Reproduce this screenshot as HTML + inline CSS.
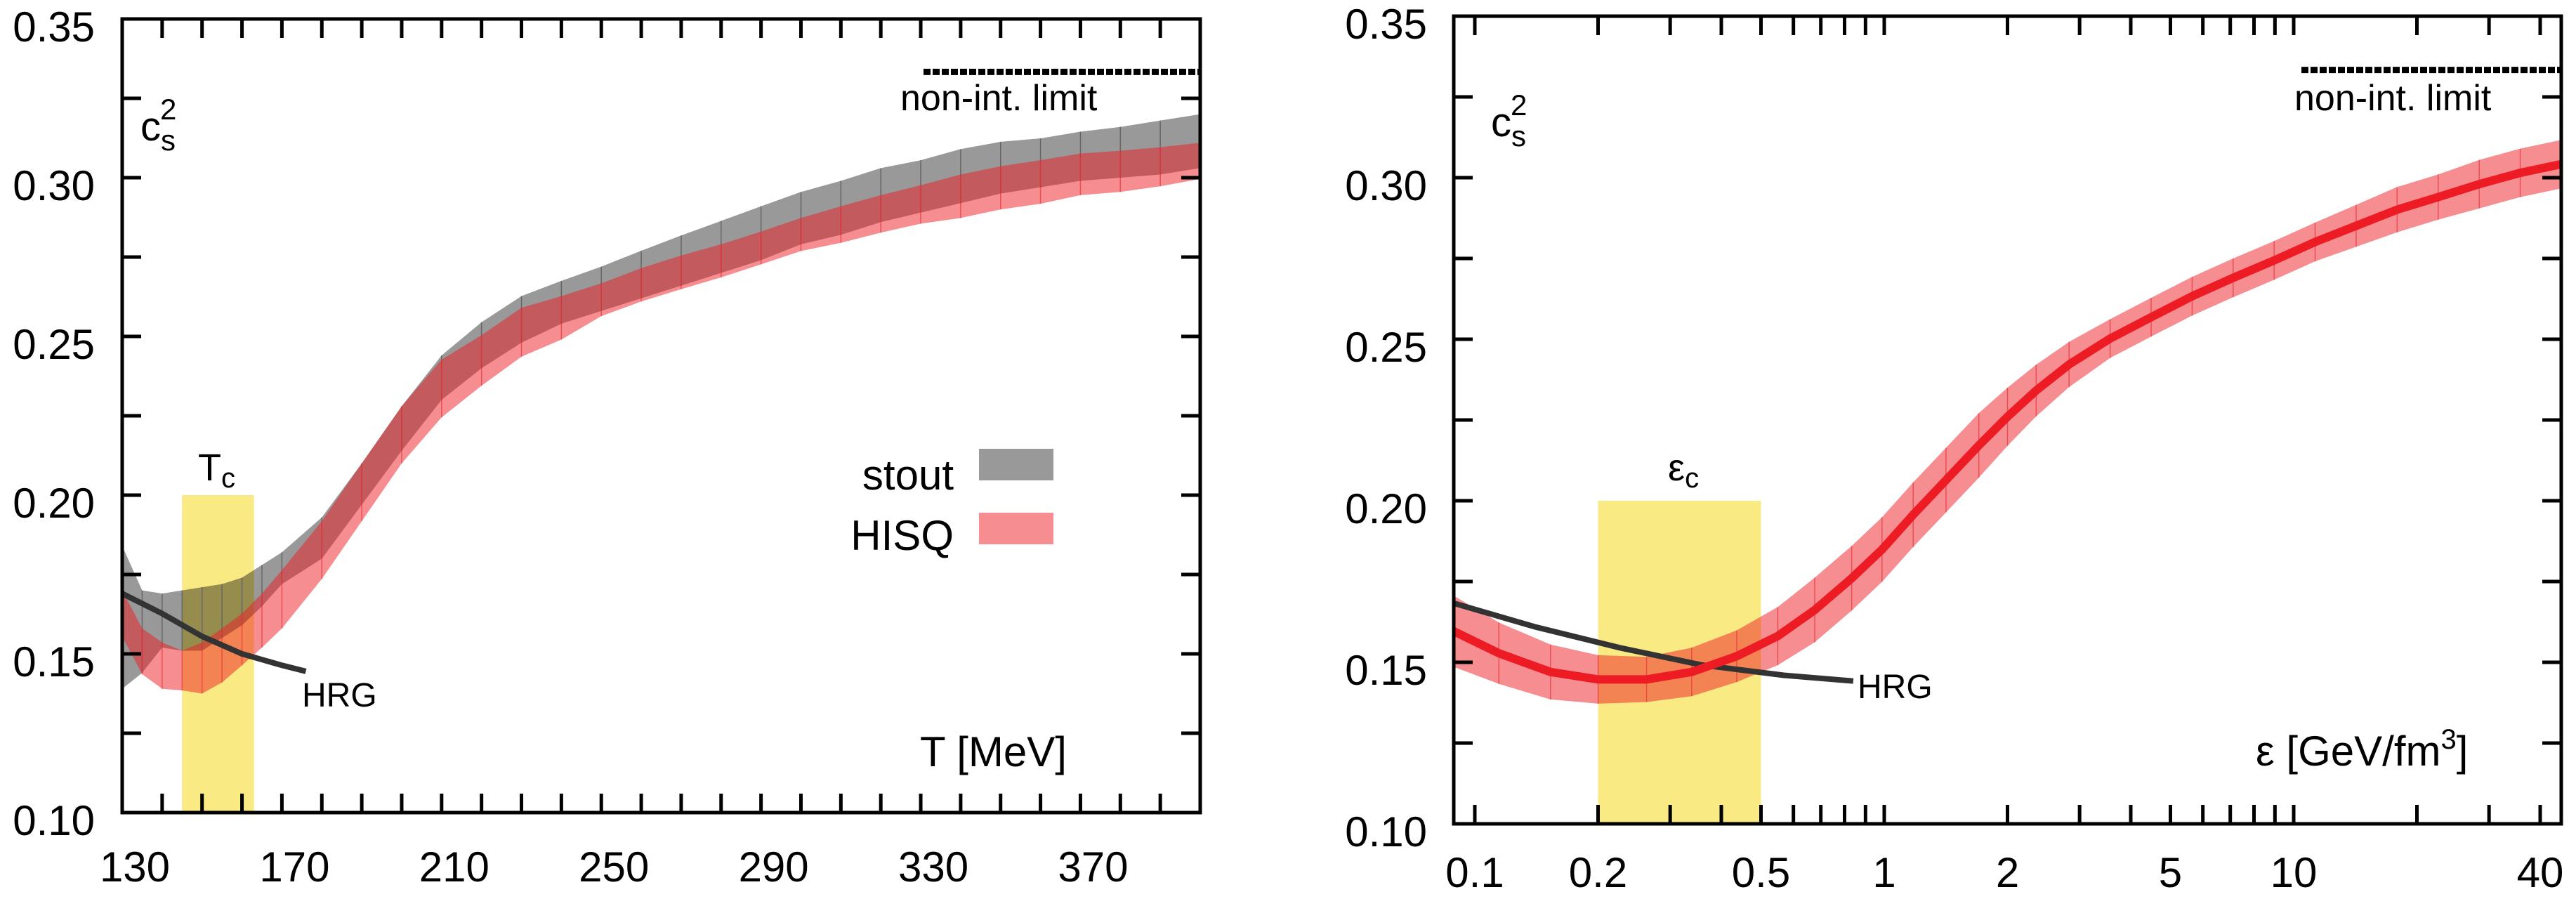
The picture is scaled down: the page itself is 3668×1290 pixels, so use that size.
<!DOCTYPE html>
<html><head><meta charset="utf-8"><style>
html,body{margin:0;padding:0;background:#fff;}
svg{display:block;font-family:"Liberation Sans",sans-serif;}
</style></head><body>
<svg id="fig" width="3668" height="1290" viewBox="0 0 3668 1290" xmlns="http://www.w3.org/2000/svg">
<g id="left"></g>
<g id="right"></g>
</svg>
<script>
// ---------- Left panel data ----------
const stoutT = [130,135,140,145,150,155,160,165,170,180,190,200,210,220,230,240,250,260,270,280,290,300,310,320,330,340,350,360,370,380,390,400];
const stoutUpper = [.184,.170,.169,.170,.171,.172,.174,.178,.182,.193,.210,.228,.244,.2545,.2627,.2675,.272,.277,.2818,.2864,.291,.2955,.299,.303,.3055,.309,.3113,.3124,.3145,.316,.318,.320];
const stoutLower = [.139,.144,.152,.151,.151,.155,.159,.165,.172,.180,.197,.214,.230,.240,.248,.254,.258,.262,.266,.270,.274,.279,.282,.286,.289,.292,.295,.297,.299,.300,.301,.303];
const hisqT = [130,135,140,145,150,155,160,165,170,180,190,200,210,220,230,240,250,260,270,280,290,300,310,320,330,340,350,360,370,380,390,400];
const hisqUpper = [.170,.158,.1536,.151,.1536,.158,.1627,.169,.1764,.1918,.210,.228,.2427,.2504,.259,.2627,.2667,.2715,.2755,.279,.283,.2873,.291,.2945,.2976,.301,.3036,.3055,.3076,.3085,.3096,.311];
const hisqLower = [.1555,.1436,.139,.1385,.1375,.141,.1464,.152,.158,.1736,.1918,.210,.2245,.2345,.2436,.249,.2564,.261,.2649,.2686,.2727,.2769,.2795,.2827,.2855,.2873,.290,.2918,.2945,.2955,.2973,.2996];
const hrgT = [130,140,150,160,170,176];
const hrgL = [.169,.1627,.1555,.150,.1464,.1445];
const tcBand = [145,163];
const xTicksL = [130,170,210,250,290,330,370];
const yTicks = [0.10,0.15,0.20,0.25,0.30,0.35];
const nonIntLimit = 1/3;

// ---------- Right panel data ----------
const epsVals = [0.0888,0.1145,0.1531,0.2001,0.2627,0.3386,0.4363,0.5495,0.6764,0.8327,0.9874,1.177,1.415,1.702,2.0,2.35,2.828,3.562,4.486,5.649,7.114,8.96,11.28,14.21,17.89,22.54,28.39,35.75,45.03];
const csEps = [.1596,.1528,.147,.1447,.1447,.147,.1519,.1581,.1662,.176,.1849,.1957,.2064,.2171,.226,.2341,.2422,.2502,.2568,.2633,.269,.2744,.2801,.2851,.2901,.294,.298,.3015,.3042];
const csErr = [.011,.0095,.0085,.0075,.007,.0075,.008,.009,.010,.010,.010,.010,.010,.010,.009,.008,.007,.006,.006,.006,.006,.006,.006,.0065,.007,.007,.0075,.0075,.0075];
const hrgEps = [0.0888,0.14,0.226,0.357,0.566,0.84];
const hrgR = [.1683,.161,.1545,.1492,.146,.1442];
const epsCBand = [0.2,0.5];
const xTicksR = [0.1,0.2,0.5,1,2,5,10,40];

const NS="http://www.w3.org/2000/svg";
function mk(parent,tag,attrs){const e=document.createElementNS(NS,tag);for(const k in attrs)e.setAttribute(k,attrs[k]);parent.appendChild(e);return e;}

const L={x0:174,x1:1709,y0:27,y1:1157,tmin:130,tmax:400};
const xL=t=>L.x0+(t-L.tmin)/(L.tmax-L.tmin)*(L.x1-L.x0);
const yL=v=>L.y1-(v-0.10)/0.25*(L.y1-L.y0);
const R={x0:2070,x1:3647,y0:23,y1:1173};
const xR=e=>2100+583*(Math.log10(e)+1);
const yR=v=>R.y1-(v-0.10)/0.25*(R.y1-R.y0);

function bandPath(xs,up,lo,fx,fy){let d='';for(let i=0;i<xs.length;i++)d+=(i?'L':'M')+fx(xs[i]).toFixed(1)+','+fy(up[i]).toFixed(1);for(let i=xs.length-1;i>=0;i--)d+='L'+fx(xs[i]).toFixed(1)+','+fy(lo[i]).toFixed(1);return d+'Z';}
function linePath(xs,ys,fx,fy){return xs.map((x,i)=>(i?'L':'M')+fx(x).toFixed(1)+','+fy(ys[i]).toFixed(1)).join('');}
function text(g,x,y,str,size,anchor){const t=mk(g,'text',{x:x,y:y,'font-size':size,'text-anchor':anchor||'start',fill:'#000'});t.textContent=str;return t;}

// ===== LEFT PANEL =====
const gL=document.getElementById('left');
const clipL=mk(gL,'clipPath',{id:'clipL'});mk(clipL,'rect',{x:L.x0,y:L.y0,width:L.x1-L.x0,height:L.y1-L.y0});
const plotL=mk(gL,'g',{'clip-path':'url(#clipL)'});
const tcRect=mk(plotL,'rect',{x:xL(tcBand[0]),y:yL(0.20),width:xL(tcBand[1])-xL(tcBand[0]),height:yL(0.10)-yL(0.20),fill:'#f9ea83'});


const stoutBand=mk(plotL,'path',{d:bandPath(stoutT,stoutUpper,stoutLower,xL,yL),fill:'#000','fill-opacity':0.4});


stoutT.forEach((t,i)=>{const ln=mk(plotL,'line',{x1:xL(t),x2:xL(t),y1:yL(stoutUpper[i]),y2:yL(stoutLower[i]),stroke:'#666','stroke-width':1.5});

});
const hisqBand=mk(plotL,'path',{d:bandPath(hisqT,hisqUpper,hisqLower,xL,yL),fill:'#ed1c24','fill-opacity':0.5});


hisqT.forEach((t,i)=>{const ln=mk(plotL,'line',{x1:xL(t),x2:xL(t),y1:yL(hisqUpper[i]),y2:yL(hisqLower[i]),stroke:'#e8333a','stroke-width':1.5,'stroke-opacity':0.7});

});
const hrgLine=mk(plotL,'path',{d:linePath(hrgT,hrgL,xL,yL),fill:'none',stroke:'#333','stroke-width':8});


const nlL=mk(gL,'line',{x1:1315,x2:L.x1,y1:yL(nonIntLimit),y2:yL(nonIntLimit),stroke:'#000','stroke-width':9,'stroke-dasharray':'10 3'});


for(let t=140;t<400;t+=10){mk(gL,'line',{x1:xL(t),x2:xL(t),y1:L.y1,y2:L.y1-27,stroke:'#000','stroke-width':5});mk(gL,'line',{x1:xL(t),x2:xL(t),y1:L.y0,y2:L.y0+27,stroke:'#000','stroke-width':5});}
for(let v=0.125;v<0.35;v+=0.025){mk(gL,'line',{x1:L.x0,x2:L.x0+27,y1:yL(v),y2:yL(v),stroke:'#000','stroke-width':5});mk(gL,'line',{x1:L.x1,x2:L.x1-27,y1:yL(v),y2:yL(v),stroke:'#000','stroke-width':5});}
const frameL=mk(gL,'rect',{x:L.x0,y:L.y0,width:L.x1-L.x0,height:L.y1-L.y0,fill:'none',stroke:'#000','stroke-width':5});


xTicksL.forEach(t=>{const tx=text(gL,xL(t)+18,1255,String(t),60,'middle');

});
yTicks.forEach(v=>{const tx=text(gL,135,yL(v)+32,v.toFixed(2),60,'end');

});
</script>
<script>
(function(){const gL=document.getElementById('left');
function lbl(x,y,html,size,anchor,name){const t=document.createElementNS(NS,'text');t.setAttribute('x',x);t.setAttribute('y',y);t.setAttribute('font-size',size);t.setAttribute('text-anchor',anchor||'start');t.innerHTML=html;


gL.appendChild(t);return t;}
lbl(200,200,'c<tspan font-size="42" dy="14">s</tspan><tspan font-size="42" dx="-22" dy="-44">2</tspan>',58,'start','y-axis-title');
lbl(1282,157,'non-int. limit',52,'start','non-int-limit-label');
lbl(282,684,'T<tspan font-size="40" dy="10">c</tspan>',54,'start','tc-label');
lbl(1358,697,'stout',60,'end','legend-stout-label');
lbl(1358,783,'HISQ',60,'end','legend-hisq-label');
lbl(430,1006,'HRG',48,'start','hrg-label');
lbl(1310,1091,'T [MeV]',60,'start','x-axis-title');
const b1=mk(gL,'rect',{x:1394,y:639,width:106,height:45,fill:'#000','fill-opacity':0.4});


const b2=mk(gL,'rect',{x:1394,y:730,width:106,height:45,fill:'#ed1c24','fill-opacity':0.5});


})();

(function(){
const gR=document.getElementById('right');
const clipR=mk(gR,'clipPath',{id:'clipR'});mk(clipR,'rect',{x:R.x0,y:R.y0,width:R.x1-R.x0,height:R.y1-R.y0});
const plotR=mk(gR,'g',{'clip-path':'url(#clipR)'});
const ec=mk(plotR,'rect',{x:xR(epsCBand[0]),y:yR(0.20),width:xR(epsCBand[1])-xR(epsCBand[0]),height:yR(0.10)-yR(0.20),fill:'#f9ea83'});


const up=csEps.map((v,i)=>v+csErr[i]);const lo=csEps.map((v,i)=>v-csErr[i]);
const band=mk(plotR,'path',{d:bandPath(epsVals,up,lo,xR,yR),fill:'#ed1c24','fill-opacity':0.5});


epsVals.forEach((e,i)=>{const ln=mk(plotR,'line',{x1:xR(e),x2:xR(e),y1:yR(up[i]),y2:yR(lo[i]),stroke:'#e8333a','stroke-width':1.5,'stroke-opacity':0.7});

});
const hrg=mk(plotR,'path',{d:linePath(hrgEps,hrgR,xR,yR),fill:'none',stroke:'#333','stroke-width':8});


const cl=mk(plotR,'path',{d:linePath(epsVals,csEps,xR,yR),fill:'none',stroke:'#ed1c24','stroke-width':12});


const nl=mk(gR,'line',{x1:3277,x2:R.x1,y1:yR(nonIntLimit),y2:yR(nonIntLimit),stroke:'#000','stroke-width':9,'stroke-dasharray':'10 3'});


const minors=[];for(const d of [0.1,1,10]){for(let k=1;k<10;k++){const e=k*d;if(e>=0.1&&e<=44)minors.push(e);}}
minors.forEach(e=>{const x=xR(e);if(x<=R.x0||x>=R.x1)return;mk(gR,'line',{x1:x,x2:x,y1:R.y1,y2:R.y1-27,stroke:'#000','stroke-width':5});mk(gR,'line',{x1:x,x2:x,y1:R.y0,y2:R.y0+27,stroke:'#000','stroke-width':5});});
for(let v=0.125;v<0.35;v+=0.025){mk(gR,'line',{x1:R.x0,x2:R.x0+27,y1:yR(v),y2:yR(v),stroke:'#000','stroke-width':5});mk(gR,'line',{x1:R.x1,x2:R.x1-27,y1:yR(v),y2:yR(v),stroke:'#000','stroke-width':5});}
const fr=mk(gR,'rect',{x:R.x0,y:R.y0,width:R.x1-R.x0,height:R.y1-R.y0,fill:'none',stroke:'#000','stroke-width':5});


xTicksR.forEach(e=>{const tx=text(gR,xR(e),1263,String(e),60,'middle');

});
yTicks.forEach(v=>{const tx=text(gR,2032,yR(v)+32,v.toFixed(2),60,'end');

});
function lbl(x,y,html,size,anchor,name){const t=document.createElementNS(NS,'text');t.setAttribute('x',x);t.setAttribute('y',y);t.setAttribute('font-size',size);t.setAttribute('text-anchor',anchor||'start');t.innerHTML=html;


gR.appendChild(t);return t;}
lbl(2123,194,'c<tspan font-size="42" dy="14">s</tspan><tspan font-size="42" dx="-22" dy="-44">2</tspan>',58,'start','y-axis-title');
lbl(3267,157,'non-int. limit',52,'start','non-int-limit-label');
lbl(2375,684,'ε<tspan font-size="40" dy="10">c</tspan>',54,'start','epsilon-c-label');
lbl(2645,994,'HRG',48,'start','hrg-label');
lbl(3212,1090,'ε [GeV/fm<tspan font-size="40" dy="-24">3</tspan><tspan dy="24">]</tspan>',60,'start','x-axis-title');
})();
</script>
</body></html>
